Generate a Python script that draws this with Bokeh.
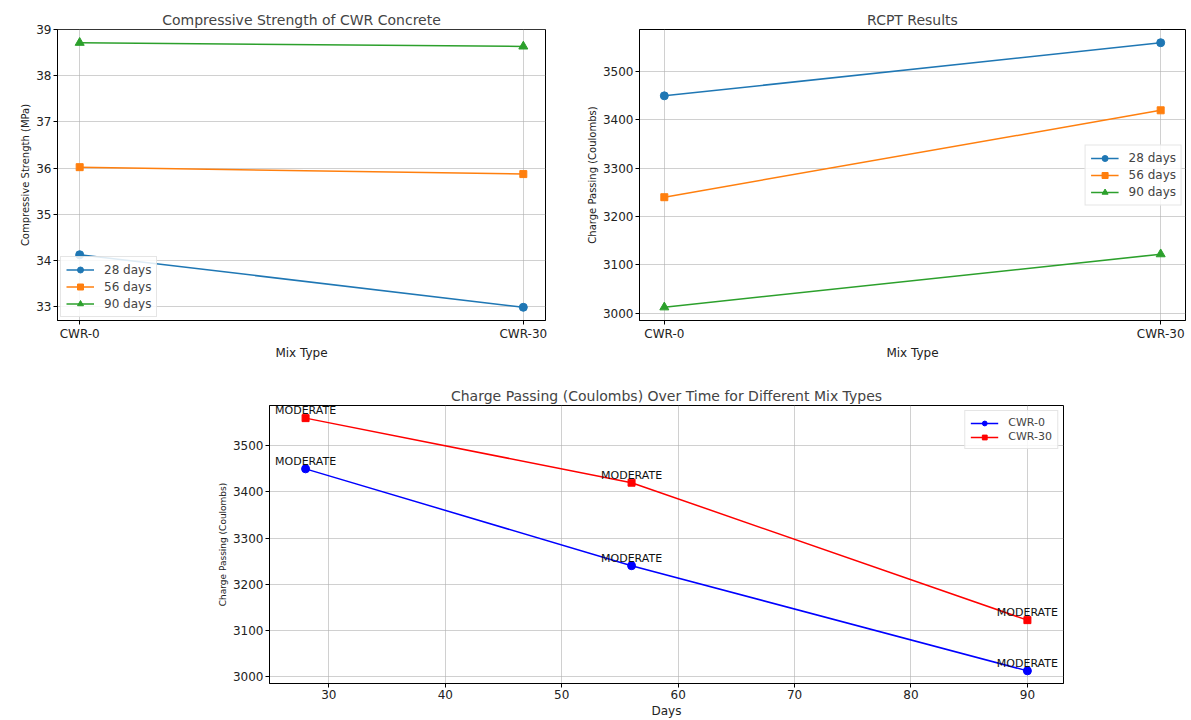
from bokeh.plotting import figure
from bokeh.layouts import column, row
from bokeh.models import (Range1d, FixedTicker, SingleIntervalTicker, ColumnDataSource, Spacer,
                          LabelSet)
from bokeh.embed import file_html
from bokeh.resources import INLINE
from bokeh.core.properties import value

# ---------------- data ----------------
mix_types = ["CWR-0", "CWR-30"]
age_labels = ["28 days", "56 days", "90 days"]
strength_28 = [34.12, 32.98]
strength_56 = [36.02, 35.87]
strength_90 = [38.72, 38.64]
rcpt_28 = [3450, 3560]
rcpt_56 = [3240, 3420]
rcpt_90 = [3012, 3122]
days = [28, 56, 90]
cwr0_charge = [3450, 3240, 3012]
cwr30_charge = [3560, 3420, 3122]
cwr0_rating = ["MODERATE", "MODERATE", "MODERATE"]
cwr30_rating = ["MODERATE", "MODERATE", "MODERATE"]

FONT = "DejaVu Sans"
TAB = ["#1f77b4", "#ff7f0e", "#2ca02c"]
MARK = ["circle", "square", "triangle"]
MSIZE = [8, 7, 9]


def pad_range(vals, frac=0.05):
    lo, hi = min(vals), max(vals)
    span = hi - lo
    return Range1d(lo - span * frac, hi + span * frac)


def style(p, ylabel, xlabel, ylabel_size="10px"):
    p.background_fill_color = "white"
    p.border_fill_color = "white"
    p.outline_line_color = "black"
    p.outline_line_width = 1
    p.title.text_font = FONT
    p.title.text_font_size = "14px"
    p.title.text_font_style = "normal"
    p.title.align = "center"
    p.title.standoff = 4
    for ax in (p.xaxis[0], p.yaxis[0]):
        ax.axis_line_color = "black"
        ax.major_tick_line_color = "black"
        ax.major_tick_out = 4
        ax.major_tick_in = 0
        ax.minor_tick_line_color = None
        ax.major_label_text_font = FONT
        ax.major_label_text_font_size = "12px"
        ax.major_label_text_color = "#222222"
        ax.major_label_standoff = 2
        ax.axis_label_text_font = FONT
        ax.axis_label_text_font_style = "normal"
        ax.axis_label_text_color = "#222222"
        ax.axis_label_standoff = 2
    p.xaxis.axis_label = xlabel
    p.xaxis.axis_label_text_font_size = "12px"
    p.yaxis.axis_label = ylabel
    p.yaxis.axis_label_text_font_size = ylabel_size
    p.grid.grid_line_color = "#b0b0b0"
    p.grid.grid_line_alpha = 0.6
    p.grid.grid_line_width = 1


def style_legend(p, loc, size="12px"):
    lg = p.legend[0]
    lg.location = loc
    lg.label_text_font = FONT
    lg.label_text_font_size = size
    lg.border_line_color = "#cccccc"
    lg.border_line_width = 1
    lg.background_fill_alpha = 0.85
    lg.glyph_width = 28
    lg.glyph_height = 15
    lg.label_height = 15
    lg.spacing = 2
    lg.padding = 5
    lg.margin = 3
    lg.label_standoff = 10


# ---------------- chart 1 ----------------
xs = list(range(len(mix_types)))
strengths = [strength_28, strength_56, strength_90]
all_s = strength_28 + strength_56 + strength_90
p1 = figure(width=574, height=362, output_backend="svg", toolbar_location=None,
            title="Compressive Strength of CWR Concrete",
            x_range=pad_range(xs), y_range=pad_range(all_s),
            min_border_left=57, min_border_right=29, min_border_top=29, min_border_bottom=40)
for lab, ys, c, m, s in zip(age_labels, strengths, TAB, MARK, MSIZE):
    p1.line(xs, ys, line_color=c, line_width=1.5, legend_label=lab)
    p1.scatter(xs, ys, marker=m, size=s, fill_color=c, line_color=c, legend_label=lab)
style(p1, "Compressive Strength (MPa)", "Mix Type")
p1.xaxis.ticker = FixedTicker(ticks=xs)
p1.xaxis.major_label_overrides = {i: n for i, n in zip(xs, mix_types)}
p1.xgrid.ticker = FixedTicker(ticks=xs)
p1.yaxis.ticker = SingleIntervalTicker(interval=1)
style_legend(p1, "bottom_left")

# ---------------- chart 2 ----------------
rcpts = [rcpt_28, rcpt_56, rcpt_90]
all_r = rcpt_28 + rcpt_56 + rcpt_90
p2 = figure(width=617, height=362, output_backend="svg", toolbar_location=None,
            title="RCPT Results",
            x_range=pad_range(xs), y_range=pad_range(all_r),
            min_border_left=65, min_border_right=6, min_border_top=29, min_border_bottom=40)
for lab, ys, c, m, s in zip(age_labels, rcpts, TAB, MARK, MSIZE):
    p2.line(xs, ys, line_color=c, line_width=1.5, legend_label=lab)
    p2.scatter(xs, ys, marker=m, size=s, fill_color=c, line_color=c, legend_label=lab)
style(p2, "Charge Passing (Coulombs)", "Mix Type")
p2.xaxis.ticker = FixedTicker(ticks=xs)
p2.xaxis.major_label_overrides = {i: n for i, n in zip(xs, mix_types)}
p2.xgrid.ticker = FixedTicker(ticks=xs)
p2.yaxis.ticker = SingleIntervalTicker(interval=100)
style_legend(p2, "center_right")

# ---------------- chart 3 ----------------
src0 = ColumnDataSource(dict(d=days, q=cwr0_charge, t=cwr0_rating))
src30 = ColumnDataSource(dict(d=days, q=cwr30_charge, t=cwr30_rating))
p3 = figure(width=885, height=358, output_backend="svg", toolbar_location=None,
            title="Charge Passing (Coulombs) Over Time for Different Mix Types",
            x_range=pad_range(days), y_range=pad_range(cwr0_charge + cwr30_charge),
            min_border_left=71, min_border_right=20, min_border_top=43, min_border_bottom=36)
p3.line("d", "q", source=src0, line_color="blue", line_width=1.5, legend_label="CWR-0")
p3.scatter("d", "q", source=src0, marker="circle", size=8, fill_color="blue",
           line_color="blue", legend_label="CWR-0")
p3.line("d", "q", source=src30, line_color="red", line_width=1.5, legend_label="CWR-30")
p3.scatter("d", "q", source=src30, marker="square", size=7, fill_color="red",
           line_color="red", legend_label="CWR-30")
for src in (src0, src30):
    p3.add_layout(LabelSet(x="d", y="q", text="t", source=src, text_align="center",
                           text_baseline="alphabetic", y_offset=4, text_font=value(FONT),
                           text_font_size="11px", text_color="#111111"))
style(p3, "Charge Passing (Coulombs)", "Days", ylabel_size="9px")
p3.xaxis.ticker = SingleIntervalTicker(interval=10)
p3.yaxis.ticker = SingleIntervalTicker(interval=100)
style_legend(p3, "top_right", size="11px")
p3.legend[0].label_height = 12
p3.legend[0].glyph_height = 12
p3.legend[0].spacing = 1
p3.legend[0].margin = 5

layout = column(row(p1, p2), row(Spacer(width=198, height=358), p3))
open("out.html", "w").write(file_html(layout, INLINE))
